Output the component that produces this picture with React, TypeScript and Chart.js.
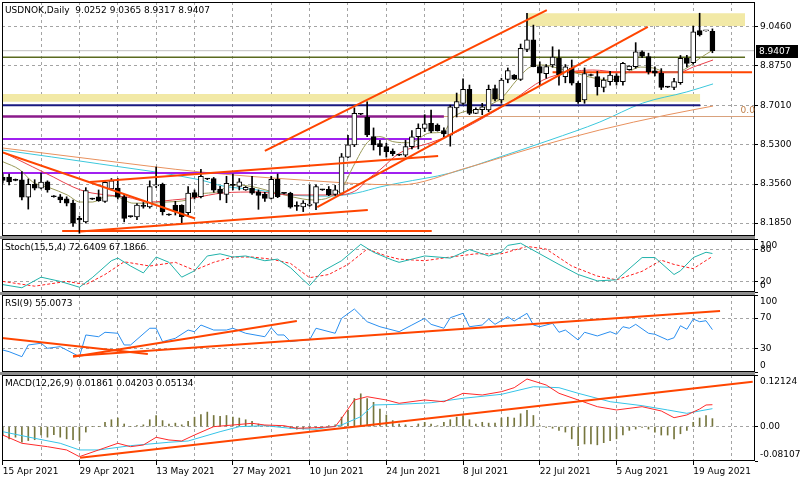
import React, { useEffect, useRef } from 'react';
import { Chart, registerables } from 'chart.js';

Chart.register(...registerables);

const FONT_FAMILY = 'DejaVu Sans';
const SYMBOL = 'USDNOK,Daily';

// ---- time axis ----
const dateLabels = ['15 Apr 2021', '29 Apr 2021', '13 May 2021', '27 May 2021', '10 Jun 2021', '24 Jun 2021', '8 Jul 2021', '22 Jul 2021', '5 Aug 2021', '19 Aug 2021'];
const barsPerLabel = 12;
const barsPerGrid = 6;

// ---- price ticks ----
const priceTicks = [8.185, 8.356, 8.53, 8.701, 8.875, 9.046];
const stochTicks = [0, 20, 80, 100];
const stochGrid = [20, 80];
const rsiTicks = [0, 30, 70, 100];
const rsiGrid = [30, 70];
const macdTicks = [-0.08107, 0, 0.12124];
const macdGrid = [0];

// ---- daily candles (O,H,L,C) ----
const openP = [8.385, 8.386, 8.375, 8.374, 8.298, 8.355, 8.338, 8.366, 8.302, 8.3, 8.291, 8.272, 8.205, 8.19, 8.292, 8.3, 8.28, 8.335, 8.338, 8.3, 8.214, 8.212, 8.262, 8.255, 8.348, 8.355, 8.222, 8.263, 8.262, 8.23, 8.318, 8.3, 8.379, 8.38, 8.334, 8.31, 8.355, 8.346, 8.33, 8.337, 8.322, 8.312, 8.293, 8.377, 8.316, 8.315, 8.26, 8.255, 8.262, 8.272, 8.331, 8.333, 8.31, 8.315, 8.474, 8.528, 8.663, 8.648, 8.564, 8.533, 8.52, 8.5, 8.484, 8.483, 8.52, 8.564, 8.6, 8.622, 8.615, 8.59, 8.57, 8.69, 8.71, 8.771, 8.666, 8.682, 8.681, 8.775, 8.725, 8.815, 8.834, 8.815, 8.946, 8.988, 8.871, 8.84, 8.878, 8.907, 8.827, 8.864, 8.798, 8.725, 8.835, 8.827, 8.78, 8.805, 8.83, 8.805, 8.857, 8.871, 8.936, 8.915, 8.852, 8.841, 8.782, 8.78, 8.8, 8.907, 8.888, 9.029, 9.028, 9.0252];
const highP = [8.4, 8.4, 8.378, 8.41, 8.378, 8.375, 8.404, 8.37, 8.305, 8.31, 8.3, 8.286, 8.215, 8.34, 8.294, 8.33, 8.37, 8.38, 8.38, 8.31, 8.216, 8.27, 8.275, 8.37, 8.43, 8.36, 8.225, 8.28, 8.265, 8.345, 8.33, 8.42, 8.381, 8.385, 8.346, 8.39, 8.4, 8.38, 8.345, 8.39, 8.33, 8.32, 8.39, 8.4, 8.318, 8.32, 8.278, 8.283, 8.352, 8.352, 8.333, 8.345, 8.35, 8.49, 8.57, 8.69, 8.665, 8.717, 8.602, 8.548, 8.535, 8.51, 8.486, 8.548, 8.59, 8.62, 8.66, 8.68, 8.62, 8.602, 8.702, 8.755, 8.817, 8.79, 8.69, 8.71, 8.79, 8.79, 8.82, 8.865, 8.836, 8.97, 9.105, 9.053, 8.892, 8.88, 8.958, 8.944, 8.88, 8.9, 8.805, 8.865, 8.838, 8.85, 8.822, 8.85, 8.84, 8.89, 8.875, 8.976, 8.94, 8.93, 8.87, 8.862, 8.783, 8.82, 8.92, 8.92, 9.049, 9.105, 9.03, 9.0365];
const lowP = [8.36, 8.352, 8.37, 8.286, 8.246, 8.33, 8.335, 8.32, 8.298, 8.274, 8.26, 8.17, 8.14, 8.185, 8.288, 8.28, 8.275, 8.33, 8.29, 8.19, 8.21, 8.2, 8.25, 8.25, 8.34, 8.22, 8.218, 8.22, 8.184, 8.22, 8.29, 8.295, 8.375, 8.32, 8.286, 8.274, 8.33, 8.33, 8.328, 8.31, 8.245, 8.28, 8.29, 8.296, 8.313, 8.25, 8.24, 8.235, 8.258, 8.243, 8.328, 8.305, 8.306, 8.31, 8.472, 8.52, 8.66, 8.564, 8.505, 8.483, 8.474, 8.48, 8.48, 8.476, 8.51, 8.51, 8.586, 8.581, 8.588, 8.564, 8.522, 8.65, 8.705, 8.66, 8.665, 8.66, 8.673, 8.72, 8.71, 8.8, 8.814, 8.81, 8.937, 8.87, 8.79, 8.82, 8.868, 8.79, 8.8, 8.79, 8.71, 8.71, 8.83, 8.746, 8.76, 8.79, 8.79, 8.79, 8.855, 8.864, 8.91, 8.838, 8.83, 8.77, 8.779, 8.77, 8.793, 8.87, 8.882, 9.005, 9.026, 8.9317];
const closeP = [8.372, 8.365, 8.372, 8.298, 8.355, 8.338, 8.365, 8.33, 8.3, 8.286, 8.272, 8.184, 8.198, 8.327, 8.29, 8.283, 8.363, 8.37, 8.298, 8.205, 8.213, 8.264, 8.258, 8.345, 8.352, 8.235, 8.22, 8.236, 8.213, 8.316, 8.298, 8.39, 8.378, 8.329, 8.315, 8.359, 8.35, 8.366, 8.342, 8.316, 8.306, 8.293, 8.377, 8.3, 8.315, 8.254, 8.258, 8.272, 8.268, 8.345, 8.33, 8.308, 8.33, 8.475, 8.528, 8.666, 8.662, 8.571, 8.527, 8.52, 8.498, 8.489, 8.483, 8.52, 8.563, 8.6, 8.62, 8.588, 8.59, 8.576, 8.695, 8.718, 8.771, 8.666, 8.684, 8.695, 8.771, 8.728, 8.812, 8.853, 8.816, 8.951, 8.988, 8.871, 8.842, 8.871, 8.913, 8.834, 8.87, 8.798, 8.717, 8.84, 8.832, 8.783, 8.812, 8.834, 8.805, 8.885, 8.873, 8.936, 8.917, 8.849, 8.842, 8.78, 8.781, 8.805, 8.907, 8.885, 9.024, 9.01, 9.029, 8.9407];

// ---- moving averages: [bar, price] ----
const fastMA = [[0, 8.454], [2.7, 8.418], [4.7, 8.365], [7.4, 8.339], [10.1, 8.308], [12.1, 8.277], [14.1, 8.277], [16.3, 8.303], [18, 8.299], [20.4, 8.272], [23, 8.272], [25.7, 8.277], [28.8, 8.286], [30.9, 8.312], [33.5, 8.321], [36, 8.353], [39.1, 8.344], [42.3, 8.321], [45.4, 8.299], [48.5, 8.286], [51.2, 8.299], [53.2, 8.344], [54.8, 8.432], [57, 8.537], [59, 8.564], [61, 8.542], [63.7, 8.537], [66.8, 8.58], [68.9, 8.584], [70.4, 8.646], [72, 8.672], [74.2, 8.681], [76.2, 8.703], [78.2, 8.738], [80.4, 8.812], [82.5, 8.869], [84.5, 8.878], [86.7, 8.865], [89.2, 8.847], [91.8, 8.825], [95, 8.812], [97.6, 8.843], [99.7, 8.869], [101.7, 8.865], [103.9, 8.847], [105.5, 8.847], [107, 8.865], [109.1, 8.909], [111.1, 8.944]];
const midMA = [[0, 8.496], [4.7, 8.431], [7.9, 8.387], [11, 8.343], [13.2, 8.321], [16.3, 8.308], [19.4, 8.299], [23, 8.277], [26.6, 8.286], [29.8, 8.295], [34.5, 8.317], [39.8, 8.321], [44.9, 8.308], [49.2, 8.308], [52.3, 8.308], [55.4, 8.33], [57, 8.374], [59, 8.418], [62.1, 8.492], [66.8, 8.536], [70, 8.571], [74.6, 8.637], [79.8, 8.724], [84.5, 8.812], [88.7, 8.847], [92.3, 8.856], [96.5, 8.847], [101.2, 8.847], [105.9, 8.847], [108, 8.869], [111.1, 8.9]];
const slowMA = [[0, 8.505], [15.2, 8.444], [30.9, 8.374], [34.5, 8.347], [39.8, 8.33], [44.9, 8.308], [51.2, 8.303], [55.4, 8.317], [59, 8.343], [62.1, 8.361], [70, 8.404], [77.8, 8.475], [85.6, 8.549], [93.4, 8.628], [100.1, 8.711], [107, 8.76], [111.1, 8.795]];
const slowestMA = [[0, 8.514], [15.2, 8.461], [30.9, 8.409], [46.5, 8.374], [62.1, 8.352], [72.6, 8.427], [82.9, 8.514], [93.4, 8.593], [103.9, 8.659], [111.1, 8.698]];

// ---- horizontal levels: price and [fromBar, toBar] ----
const levelPrices = [8.9407, 8.912, 8.846, 8.702, 8.652, 8.652, 8.553, 8.404, 8.15];
const levelSpans = [[-1, 118], [-1, 116.1], [86, 117.2], [-1, 109.1], [-1, 117.5], [-1, 69], [-1, 67.1], [-1, 67.1], [9.3, 67.1]];
// ---- trend lines: [bar1, price1, bar2, price2] ----
const trendLines = [[-0.1, 8.496, 30.1, 8.205], [13.65, 8.365, 68.1, 8.479], [12.1, 8.148, 57.1, 8.242], [41, 8.501, 85.1, 9.119], [49.2, 8.255, 100.9, 9.045]];
// ---- zones: [fromBar, toBar, low, high] ----
const zones = [[82, 116.1, 9.049, 9.105], [-1, 109.1, 8.717, 8.751]];
const fiboLabel = '0.0';

// ---- Stochastic ----
const stochMain = [[0, 14], [3, 8], [6, 28], [9, 20], [12, 9], [14, 27], [17, 59], [18, 64], [20, 49], [22, 36], [24, 66], [26, 56], [28, 28], [30, 40], [32, 68], [34, 72], [36, 66], [38, 68], [41, 59], [43, 62], [45, 46], [47, 23], [48, 12], [50, 39], [53, 59], [56, 90], [58, 75], [61, 60], [62, 56], [66, 68], [70, 64], [73, 80], [76, 68], [78, 75], [79, 88], [81, 92], [84, 72], [87, 52], [90, 33], [93, 21], [96, 23], [100, 65], [102, 65], [105, 33], [106, 40], [108, 65], [110, 75], [111, 72.64]];
const stochSignal = [[0, 20], [5, 11], [10, 20], [13, 14], [16, 33], [19, 57], [23, 49], [27, 56], [30, 41], [33, 56], [36, 66], [39, 66], [42, 62], [45, 54], [48, 27], [51, 33], [54, 52], [57, 81], [60, 68], [62, 62], [66, 59], [70, 66], [74, 72], [78, 72], [82, 86], [85, 81], [89, 49], [93, 30], [96, 23], [100, 39], [103, 60], [105, 52], [108, 44], [111, 67.19]];

// ---- RSI ----
const rsiValues = [[0, 28.6], [1, 26.4], [3, 19.9], [4, 35.1], [6, 37.3], [7, 30.8], [9, 32.9], [11, 24.3], [12, 19.9], [13, 48.1], [15, 45.8], [16, 51.6], [18, 50.3], [19, 35.1], [20, 35.1], [23, 56.8], [24, 56.8], [25, 39.4], [27, 43.8], [29, 54.5], [30, 52.3], [31, 61], [33, 54.5], [35, 54.5], [36, 56.8], [38, 50.3], [41, 45.8], [42, 57.5], [43, 48.1], [44, 48.1], [45, 39.4], [47, 41.6], [48, 41.6], [49, 56.8], [52, 50.3], [53, 69.7], [55, 81.8], [57, 65.3], [59, 58.8], [62, 52.3], [64, 61], [66, 69.7], [67, 61.9], [69, 56.8], [70, 70.5], [72, 76.2], [73, 58.8], [75, 61], [76, 68.8], [77, 61.9], [79, 71.8], [80, 66.2], [82, 76.2], [83, 61], [84, 58.8], [86, 63.2], [87, 51.6], [88, 54.5], [90, 41.6], [91, 51.6], [93, 46.8], [95, 52.3], [96, 49], [97, 58.8], [98, 56.8], [99, 61.9], [101, 50.3], [102, 49], [104, 41.6], [105, 44.5], [106, 60.1], [107, 55.5], [108, 68.8], [109, 65.3], [110, 66.6], [111, 55.0]];
const rsiTrendLines = [[-0.4, 44.5, 22.7, 23.4], [11, 19.9, 46, 66.2], [11, 20.8, 112.2, 79.2]];

// ---- MACD ----
const macdHist = [-0.02, -0.029, -0.025, -0.037, -0.033, -0.031, -0.02, -0.025, -0.019, -0.025, -0.029, -0.031, -0.033, -0.013, 0, 0, 0.01, 0.016, 0.02, 0.006, 0, 0.002, 0.004, 0.016, 0.026, 0.014, 0.006, 0.008, 0.004, 0.012, 0.022, 0.028, 0.034, 0.026, 0.024, 0.026, 0.022, 0.02, 0.016, 0.012, 0.006, 0.002, 0, 0.002, 0, -0.004, -0.006, -0.006, -0.004, -0.003, -0.001, 0.002, 0.004, 0.022, 0.038, 0.066, 0.077, 0.066, 0.057, 0.041, 0.027, 0.014, 0.006, 0.004, 0, 0.006, 0.01, 0.006, 0.002, 0.01, 0.016, 0.022, 0.026, 0.016, 0.006, 0.01, 0.008, 0.008, 0.02, 0.022, 0.02, 0.03, 0.038, 0.026, 0.002, -0.002, -0.004, -0.009, -0.013, -0.029, -0.045, -0.041, -0.041, -0.043, -0.038, -0.033, -0.029, -0.02, -0.009, -0.006, -0.002, -0.006, -0.013, -0.02, -0.02, -0.029, -0.017, -0.009, 0.01, 0.02, 0.026, 0.01861];
const macdMain = [[0, -0.0199], [3, -0.0394], [7, -0.0474], [10, -0.0551], [12, -0.0709], [15, -0.0551], [18, -0.0394], [20, -0.0474], [22, -0.0434], [24, -0.0253], [26, -0.0316], [28, -0.034], [30, -0.0199], [33, -0.0003], [36, 0.0036], [39, 0.0076], [41, 0.0036], [44, 0.002], [46, -0.0041], [49, -0.0027], [52, -0.0003], [53, 0.0194], [55, 0.0625], [57, 0.0702], [60, 0.0625], [62, 0.0547], [66, 0.0625], [69, 0.0584], [72, 0.0782], [75, 0.0742], [78, 0.082], [80, 0.0914], [82, 0.1118], [85, 0.0977], [87, 0.0782], [90, 0.0625], [93, 0.0467], [96, 0.039], [100, 0.0467], [103, 0.0366], [105, 0.0208], [107, 0.0272], [109, 0.0413], [110, 0.0507], [111, 0.05134]];
const macdSignal = [[0, -0.0121], [5, -0.0277], [9, -0.0394], [12, -0.0551], [15, -0.0551], [20, -0.045], [26, -0.037], [29, -0.034], [34, -0.0121], [37, -0.0003], [41, 0.002], [45, -0.0041], [49, -0.0065], [53, 0.0036], [56, 0.0232], [58, 0.0507], [62, 0.0523], [67, 0.056], [72, 0.0664], [78, 0.0758], [83, 0.0937], [87, 0.0914], [90, 0.0782], [95, 0.0584], [100, 0.0491], [104, 0.039], [107, 0.0311], [111, 0.04203]];
const macdTrendLines = [[12.1, -0.0733, 117.3, 0.1055]];

const stochTitle = 'Stoch(15,5,4) 72.6409 67.1866';
const rsiTitle = 'RSI(9) 55.0073';
const macdTitle = 'MACD(12,26,9) 0.01861 0.04203 0.05134';

// ---- styles (kept apart from data) ----
const levelStyles = [
  { color: '#c0c0c0', width: 1 },
  { color: '#5a6a1e', width: 1.5 },
  { color: '#ff4500', width: 2 },
  { color: '#1a1a80', width: 2 },
  { color: '#d9a27c', width: 1 },
  { color: '#8b1a8b', width: 2.5 },
  { color: '#a020f0', width: 2 },
  { color: '#a020f0', width: 2 },
  { color: '#ff4500', width: 2 },
];
const TREND_COLOR = '#ff4500';
const ZONE_COLOR = '#f2e9a6';
const GRID_COLOR = '#a4a4a4';

const X_MIN = -0.11;
const X_MAX = 117.66;
const PRICE_MIN = 8.128;
const PRICE_MAX = 9.1543;

const font9 = { family: FONT_FAMILY, size: 9 };

function makeXScale(showLabels: boolean): any {
  return {
    type: 'linear',
    min: X_MIN,
    max: X_MAX,
    offset: false,
    afterBuildTicks: (s: any) => {
      const t: any[] = [];
      for (let v = 0; v <= X_MAX; v += barsPerGrid) t.push({ value: v });
      s.ticks = t;
    },
    afterFit: (s: any) => {
      s.height = showLabels ? 19 : 0;
    },
    grid: {
      offset: false,
      color: GRID_COLOR,
      lineWidth: 1,
      drawTicks: showLabels,
      tickLength: 4,
      tickColor: (ctx: any) => (ctx.tick && ctx.tick.value % barsPerLabel === 0 ? '#000' : 'rgba(0,0,0,0)'),
      tickBorderDash: [],
    },
    border: { display: false, dash: [3, 3] },
    ticks: {
      display: showLabels,
      autoSkip: false,
      maxRotation: 0,
      minRotation: 0,
      align: 'start',
      padding: 1,
      font: font9,
      color: '#000',
      callback: (v: number) => (v % barsPerLabel === 0 ? dateLabels[v / barsPerLabel] ?? '' : ''),
    },
  };
}

// edgeInside: labels of the min / max ticks are drawn inside the panel (terminal style)
function makeYScale(min: number, max: number, tickVals: number[], fmt: (v: number) => string, gridVals: number[] | null, edgeInside: boolean): any {
  return {
    type: 'linear',
    position: 'right',
    min,
    max,
    beginAtZero: false,
    afterBuildTicks: (s: any) => {
      s.ticks = tickVals.map((v) => ({ value: v }));
    },
    afterFit: (s: any) => {
      s.width = 45;
    },
    grid: {
      offset: false,
      color: (ctx: any) =>
        ctx.tick && (gridVals === null || gridVals.includes(ctx.tick.value)) ? GRID_COLOR : 'rgba(0,0,0,0)',
      lineWidth: 1,
      drawTicks: true,
      tickLength: 3,
      tickColor: '#000',
      tickBorderDash: [],
    },
    border: { display: false, dash: [3, 3] },
    ticks: {
      autoSkip: false,
      padding: 2,
      font: font9,
      color: '#000',
      callback: (v: number) => (edgeInside && (v === min || v === max) ? '' : fmt(v)),
    },
  };
}

function framePlugin(title: string, edge: { min: number; max: number; fmt: (v: number) => string } | null): any {
  return {
    id: 'frame',
    afterDraw(chart: any) {
      const { ctx, chartArea: a } = chart;
      ctx.save();
      ctx.strokeStyle = '#000';
      ctx.lineWidth = 1;
      ctx.strokeRect(a.left + 0.5, a.top + 0.5, a.right - a.left - 1, a.bottom - a.top - 1);
      ctx.fillStyle = '#000';
      ctx.font = `9px "${FONT_FAMILY}"`;
      ctx.textBaseline = 'top';
      ctx.textAlign = 'left';
      ctx.fillText(title, a.left + 3, a.top + 4);
      if (edge) {
        const ys = chart.scales.y;
        ctx.textBaseline = 'middle';
        const yTop = Math.max(ys.getPixelForValue(edge.max), a.top + 7);
        const yBot = Math.min(ys.getPixelForValue(edge.min), a.bottom - 6);
        ctx.fillText(edge.fmt(edge.max), a.right + 5, yTop);
        ctx.fillText(edge.fmt(edge.min), a.right + 5, yBot);
      }
      ctx.restore();
    },
  };
}

function lineDs(points: number[][], color: string, width: number, order: number, extra: any = {}): any {
  return {
    type: 'line',
    data: points.map(([x, y]) => ({ x, y })),
    borderColor: color,
    borderWidth: width,
    pointRadius: 0,
    fill: false,
    tension: 0,
    order,
    ...extra,
  };
}

function segmentDs(seg: number[], color: string, width: number, order: number): any {
  return lineDs([[seg[0], seg[1]], [seg[2], seg[3]]], color, width, order);
}

const baseOptions = (padTop: number, padBottom: number): any => ({
  responsive: false,
  animation: false,
  events: [],
  layout: { padding: { left: 2, right: 0, top: padTop, bottom: padBottom } },
  plugins: { legend: { display: false }, tooltip: { enabled: false }, title: { display: false } },
});

export default function App() {
  const mainRef = useRef<HTMLCanvasElement>(null);
  const stochRef = useRef<HTMLCanvasElement>(null);
  const rsiRef = useRef<HTMLCanvasElement>(null);
  const macdRef = useRef<HTMLCanvasElement>(null);

  useEffect(() => {
    const charts: Chart[] = [];
    const last = closeP.length - 1;
    const mainTitle = `${SYMBOL}  ${openP[last].toFixed(4)} ${highP[last].toFixed(4)} ${lowP[last].toFixed(4)} ${closeP[last].toFixed(4)}`;

    // ---- main price chart ----
    const wickData = openP.map((_, i) => ({ x: i, y: [lowP[i], highP[i]] }));
    const bodyData = openP.map((o, i) => ({ x: i, y: [o, closeP[i]] }));
    const bodyColors = openP.map((o, i) => (closeP[i] >= o ? '#ffffff' : '#000000'));

    const mainDatasets: any[] = [];
    zones.forEach((z) => {
      mainDatasets.push(
        lineDs([[z[0], z[3]], [z[1], z[3]]], 'rgba(0,0,0,0)', 0, 100, {
          fill: { value: z[2] },
          backgroundColor: ZONE_COLOR,
        })
      );
    });
    mainDatasets.push(lineDs(slowestMA, '#e8915e', 1, 60, { cubicInterpolationMode: 'monotone' }));
    mainDatasets.push(lineDs(slowMA, '#3cc8dc', 1, 60, { cubicInterpolationMode: 'monotone' }));
    levelPrices.forEach((p, k) => {
      const sp = levelSpans[k];
      mainDatasets.push(segmentDs([sp[0], p, sp[1], p], levelStyles[k].color, levelStyles[k].width, 50 - k * 0.1));
    });
    mainDatasets.push(lineDs(midMA, '#e8404a', 1, 40, { cubicInterpolationMode: 'monotone' }));
    mainDatasets.push(lineDs(fastMA, '#9a9a58', 1, 40, { cubicInterpolationMode: 'monotone' }));
    mainDatasets.push({
      type: 'bar',
      data: wickData,
      backgroundColor: '#000',
      barThickness: 1,
      grouped: false,
      order: 30,
    });
    mainDatasets.push({
      type: 'bar',
      data: bodyData,
      backgroundColor: bodyColors,
      borderColor: '#000',
      borderWidth: 1,
      borderSkipped: false,
      barThickness: 5,
      minBarLength: 1,
      grouped: false,
      order: 29,
    });
    trendLines.forEach((t) => mainDatasets.push(segmentDs(t, TREND_COLOR, 2, 10)));

    const tagPlugin = {
      id: 'tag',
      afterDraw(chart: any) {
        const { ctx, chartArea: a, scales } = chart;
        const y = scales.y.getPixelForValue(closeP[last]);
        ctx.save();
        ctx.fillStyle = '#000';
        ctx.fillRect(a.right + 1, Math.round(y) - 6, 42, 13);
        ctx.fillStyle = '#fff';
        ctx.font = `9px "${FONT_FAMILY}"`;
        ctx.textBaseline = 'middle';
        ctx.textAlign = 'left';
        ctx.fillText(closeP[last].toFixed(4), a.right + 4, Math.round(y) + 0.5);
        const fy = scales.y.getPixelForValue(levelPrices[4]);
        ctx.fillStyle = '#c0804a';
        ctx.textBaseline = 'bottom';
        ctx.fillText(fiboLabel, scales.x.getPixelForValue(115.4), fy - 1);
        ctx.restore();
      },
    };

    charts.push(
      new Chart(mainRef.current as HTMLCanvasElement, {
        type: 'bar',
        data: { datasets: mainDatasets },
        options: {
          ...baseOptions(10, 10),
          scales: {
            x: makeXScale(false),
            y: makeYScale(PRICE_MIN, PRICE_MAX, priceTicks, (v) => v.toFixed(4), null, false),
          },
        },
        plugins: [framePlugin(mainTitle, null), tagPlugin],
      } as any)
    );

    // ---- stochastic ----
    const intFmt = (v: number) => String(v);
    charts.push(
      new Chart(stochRef.current as HTMLCanvasElement, {
        type: 'line',
        data: {
          datasets: [
            lineDs(stochSignal, '#ff2020', 1, 2, { borderDash: [3, 2] }),
            lineDs(stochMain, '#20b2aa', 1, 1),
          ],
        },
        options: {
          ...baseOptions(10, 10),
          scales: {
            x: makeXScale(false),
            y: makeYScale(0, 100, stochTicks, intFmt, stochGrid, true),
          },
        },
        plugins: [framePlugin(stochTitle, { min: 0, max: 100, fmt: intFmt })],
      } as any)
    );

    // ---- RSI ----
    const rsiDs: any[] = [lineDs(rsiValues, '#2a8ff0', 1, 2)];
    rsiTrendLines.forEach((t) => rsiDs.push(segmentDs(t, TREND_COLOR, 2, 1)));
    charts.push(
      new Chart(rsiRef.current as HTMLCanvasElement, {
        type: 'line',
        data: { datasets: rsiDs },
        options: {
          ...baseOptions(10, 10),
          scales: {
            x: makeXScale(false),
            y: makeYScale(0, 100, rsiTicks, intFmt, rsiGrid, true),
          },
        },
        plugins: [framePlugin(rsiTitle, { min: 0, max: 100, fmt: intFmt })],
      } as any)
    );

    // ---- MACD ----
    const macdFmt = (v: number) => (v === 0 ? '0.00' : v.toFixed(5));
    const macdDs: any[] = [
      {
        type: 'bar',
        data: macdHist.map((v, i) => ({ x: i, y: v })),
        backgroundColor: '#76763e',
        barThickness: 1,
        grouped: false,
        order: 10,
      },
      lineDs(macdSignal, '#36c4e8', 1, 5),
      lineDs(macdMain, '#ff2a2a', 1, 4),
    ];
    macdTrendLines.forEach((t) => macdDs.push(segmentDs(t, TREND_COLOR, 2, 1)));
    charts.push(
      new Chart(macdRef.current as HTMLCanvasElement, {
        type: 'bar',
        data: { datasets: macdDs },
        options: {
          ...baseOptions(10, 0),
          scales: {
            x: makeXScale(true),
            y: makeYScale(macdTicks[0], macdTicks[2], macdTicks, macdFmt, macdGrid, true),
          },
        },
        plugins: [framePlugin(macdTitle, { min: macdTicks[0], max: macdTicks[2], fmt: macdFmt })],
      } as any)
    );

    return () => charts.forEach((c) => c.destroy());
  }, []);

  const sep = (top: number) => (
    <div style={{ position: 'absolute', left: 0, top, width: 755, height: 3, background: '#8e8e8e' }} />
  );

  return (
    <div style={{ position: 'absolute', left: 0, top: 0, width: 800, height: 480, background: '#fff', overflow: 'hidden' }}>
      {sep(236)}
      {sep(292)}
      {sep(372)}
      <canvas ref={mainRef} width={800} height={254} style={{ position: 'absolute', left: 0, top: -8 }} />
      <canvas ref={stochRef} width={800} height={73} style={{ position: 'absolute', left: 0, top: 229 }} />
      <canvas ref={rsiRef} width={800} height={97} style={{ position: 'absolute', left: 0, top: 285 }} />
      <canvas ref={macdRef} width={800} height={115} style={{ position: 'absolute', left: 0, top: 365 }} />
    </div>
  );
}
